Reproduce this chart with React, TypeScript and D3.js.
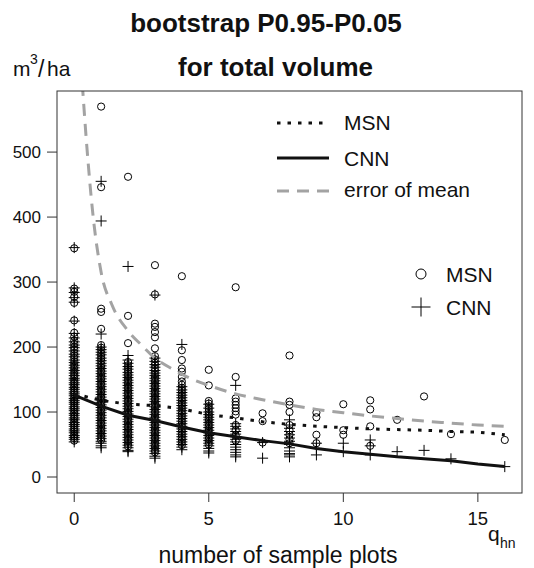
import * as d3 from "d3";
import React from "react";

// number of sample plots (q_hn)
const qValues = [0, 1, 2, 3, 4, 5, 6, 7, 8, 9, 10, 11, 12, 13, 14, 15, 16];

// bootstrap P0.95-P0.05 per run, MSN (circles), index = q
const msnPoints: number[][] = [
  [352, 290, 285, 277, 268, 241, 222, 216, 210, 205, 200, 196, 191, 187, 183, 178, 174, 170, 166, 162, 158, 155, 151, 147, 144, 140, 137, 133, 130, 127, 123, 120, 117, 114, 110, 107, 104, 100, 97, 93, 90, 86, 83, 80, 76, 73, 70, 66, 63, 60, 56],
  [570, 446, 259, 254, 228, 203, 199, 195, 190, 186, 182, 178, 173, 169, 165, 161, 157, 153, 149, 145, 141, 137, 133, 129, 125, 121, 117, 113, 109, 105, 101, 97, 93, 89, 85, 81, 77, 73, 69, 65, 61, 57],
  [462, 248, 206, 177, 172, 168, 163, 159, 155, 151, 147, 143, 139, 135, 131, 127, 123, 119, 115, 111, 107, 103, 99, 95, 91, 87, 83, 79, 75, 71, 67, 63, 59, 55, 51, 47],
  [326, 281, 236, 231, 223, 215, 198, 186, 181, 176, 172, 167, 163, 158, 154, 150, 146, 142, 138, 134, 130, 126, 122, 118, 114, 110, 106, 102, 98, 94, 90, 86, 82, 78, 74, 70, 66, 62, 58, 54, 50, 46, 42, 38],
  [309, 195, 180, 167, 162, 154, 147, 142, 137, 133, 129, 125, 121, 117, 113, 109, 105, 101, 97, 93, 89, 85, 81, 77, 73, 69, 65, 61, 57, 53, 49],
  [165, 141, 117, 113, 109, 105, 101, 97, 94, 90, 86, 82, 78, 74, 70, 66, 62, 58, 54, 50],
  [292, 154, 121, 116, 111, 106, 101, 96, 80, 72, 64, 56],
  [98, 86, 53],
  [187, 116, 111, 100, 80, 72, 65, 58, 52],
  [99, 92, 65, 52],
  [112, 72, 65],
  [118, 104, 78, 48],
  [88],
  [124],
  [66],
  [],
  [57],
];

// CNN (plus signs), index = q
const cnnPoints: number[][] = [
  [353, 291, 284, 276, 269, 240, 221, 214, 208, 203, 199, 194, 189, 185, 180, 176, 172, 168, 164, 160, 156, 152, 149, 145, 142, 138, 135, 131, 128, 125, 121, 118, 115, 112, 108, 105, 102, 98, 95, 91, 88, 84, 81, 78, 74, 71, 68, 64, 61, 58, 54],
  [455, 394, 220, 200, 196, 192, 188, 183, 179, 175, 171, 167, 163, 159, 155, 151, 147, 143, 139, 135, 131, 127, 123, 119, 115, 111, 107, 103, 99, 95, 91, 87, 83, 79, 75, 71, 67, 63, 59, 55, 52, 48, 45],
  [324, 187, 180, 175, 170, 166, 161, 157, 153, 149, 145, 141, 137, 133, 129, 125, 121, 117, 113, 109, 105, 101, 97, 93, 89, 85, 81, 77, 73, 69, 65, 61, 57, 53, 49, 45, 41, 39],
  [280, 183, 178, 173, 169, 164, 160, 156, 152, 148, 144, 140, 136, 132, 128, 124, 120, 116, 112, 108, 104, 100, 96, 92, 88, 84, 80, 76, 72, 68, 64, 60, 56, 52, 48, 44, 40, 36, 32, 29],
  [204, 139, 134, 130, 126, 122, 118, 114, 110, 106, 102, 98, 94, 90, 86, 82, 78, 74, 70, 66, 62, 58, 54, 50, 46, 42],
  [112, 106, 100, 96, 92, 88, 84, 80, 76, 72, 68, 64, 60, 56, 52, 48, 44, 40, 37],
  [141, 82, 78, 74, 70, 66, 62, 58, 54, 50, 46, 42, 38, 34, 31],
  [53, 29],
  [88, 80, 75, 70, 65, 60, 55, 50, 45, 40, 36, 34, 31],
  [52, 44, 34],
  [52, 39],
  [57, 48, 34],
  [39],
  [41],
  [28],
  [],
  [16],
];

// mean curves
const msnLine = [128, 118, 112, 110, 105, 96, 91, 85, 81, 78, 76, 74, 73, 72, 70, 69, 65];
const cnnLine = [126, 109, 95, 87, 77, 68, 62, 56, 51, 44, 39, 35, 31, 28, 25, 20, 16];

// error of mean curve
const errQ = [0.3, 0.47, 0.69, 1, 1.4, 2, 2.5, 3, 3.7, 4.3, 5, 6, 7, 8, 9, 10, 11, 12, 13, 14, 15, 16];
const errV = [605, 508, 406, 315, 265, 225, 203, 183, 165, 152, 141, 128, 119, 111, 104, 99, 94, 90, 86, 83, 80, 78];

const xTicks = [0, 5, 10, 15];
const yTicks = [0, 100, 200, 300, 400, 500];

const font = "'Liberation Sans', Arial, Helvetica, sans-serif";

function plus(cx: number, cy: number, h: number) {
  return `M${cx - h},${cy}H${cx + h}M${cx},${cy - h}V${cy + h}`;
}

export default function App() {
  const left = 57, right = 522, top = 91, bottom = 493;
  const x = d3.scaleLinear().domain([-0.64, 16.64]).range([left, right]);
  const y = d3.scaleLinear().domain([-24.6, 594]).range([bottom, top]);

  const line = d3.line<[number, number]>().x(d => x(d[0])).y(d => y(d[1]));
  const smooth = d3.line<[number, number]>().x(d => x(d[0])).y(d => y(d[1])).curve(d3.curveMonotoneX);

  const msnPath = line(qValues.map((q, i) => [q, msnLine[i]]));
  const cnnPath = line(qValues.map((q, i) => [q, cnnLine[i]]));
  const errPath = smooth(errQ.map((q, i) => [q, errV[i]]));

  return (
    <div style={{ position: "absolute", left: 0, top: 0 }}>
      <svg width={534} height={568} style={{ display: "block", background: "#fff" }} fontFamily={font}>
        <defs>
          <clipPath id="plotclip">
            <rect x={left} y={top} width={right - left} height={bottom - top} />
          </clipPath>
        </defs>

        {/* titles */}
        <text x={266} y={32} textAnchor="middle" fontSize={26} fontWeight="bold" fill="#111">bootstrap P0.95-P0.05</text>
        <text x={178} y={76} fontSize={26} fontWeight="bold" fill="#111">for total volume</text>

        {/* y unit */}
        <text x={13} y={76} fontSize={21} fill="#111">m</text>
        <text x={30} y={64} fontSize={14} fill="#111">3</text>
        <text x={38} y={77} fontSize={23} fill="#111">/</text>
        <text x={47} y={76} fontSize={21} fill="#111">ha</text>

        {/* points */}
        <g clipPath="url(#plotclip)" fill="none" stroke="#000" strokeWidth={1}>
          {msnPoints.map((vals, qi) =>
            vals.map((v, j) => <circle key={`m${qi}-${j}`} cx={x(qValues[qi])} cy={y(v)} r={3.6} />)
          )}
          {cnnPoints.map((vals, qi) =>
            vals.map((v, j) => <path key={`c${qi}-${j}`} d={plus(x(qValues[qi]), y(v), 5.5)} />)
          )}
        </g>

        {/* lines */}
        <g clipPath="url(#plotclip)" fill="none">
          <path d={errPath ?? ""} stroke="#a3a3a3" strokeWidth={3} strokeDasharray="12,8" />
          <path d={msnPath ?? ""} stroke="#111" strokeWidth={3} strokeDasharray="3.5,7" />
          <path d={cnnPath ?? ""} stroke="#111" strokeWidth={3} />
        </g>

        {/* frame */}
        <rect x={left} y={top} width={right - left} height={bottom - top} fill="none" stroke="#333" strokeWidth={1} />

        {/* x axis */}
        {xTicks.map(t => (
          <g key={`xt${t}`}>
            <line x1={x(t)} x2={x(t)} y1={bottom} y2={bottom + 9} stroke="#333" />
            <text x={x(t)} y={525} textAnchor="middle" fontSize={18.5} fill="#111">{t}</text>
          </g>
        ))}
        <text x={488} y={541} fontSize={21} fill="#111">q</text>
        <text x={500} y={548} fontSize={14} fill="#111">hn</text>
        <text x={278} y={563} textAnchor="middle" fontSize={23} fill="#111">number of sample plots</text>

        {/* y axis */}
        {yTicks.map(t => (
          <g key={`yt${t}`}>
            <line x1={left - 10} x2={left} y1={y(t)} y2={y(t)} stroke="#333" />
            <text x={41} y={y(t)} dy="0.36em" textAnchor="end" fontSize={17} fill="#111">{t}</text>
          </g>
        ))}

        {/* line legend */}
        <g fill="none" strokeWidth={3}>
          <line x1={277} x2={329} y1={123} y2={123} stroke="#111" strokeDasharray="3.5,7" />
          <line x1={277} x2={329} y1={158} y2={158} stroke="#111" />
          <line x1={277} x2={329} y1={191} y2={191} stroke="#a3a3a3" strokeDasharray="12,8" />
        </g>
        <text x={344} y={130} fontSize={21} fill="#111">MSN</text>
        <text x={344} y={165.5} fontSize={21} fill="#111">CNN</text>
        <text x={344} y={197} fontSize={21} fill="#111">error of mean</text>

        {/* point legend */}
        <circle cx={421} cy={274} r={5} fill="none" stroke="#000" strokeWidth={1} />
        <path d={plus(421, 307, 9.5)} fill="none" stroke="#000" strokeWidth={1} />
        <text x={446} y={282} fontSize={21} fill="#111">MSN</text>
        <text x={446} y={315} fontSize={21} fill="#111">CNN</text>
      </svg>
    </div>
  );
}
